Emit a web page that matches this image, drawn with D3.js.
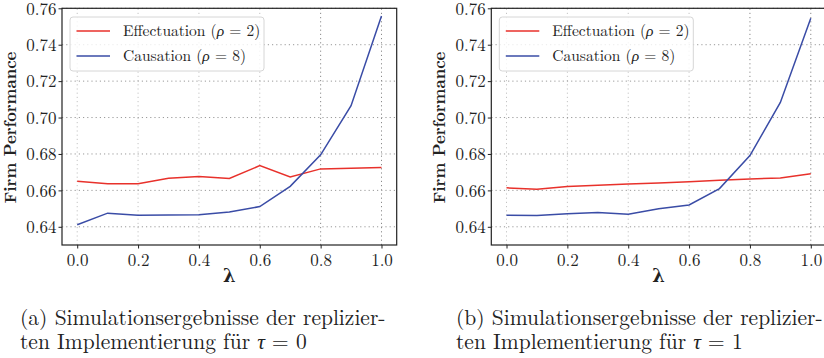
<!DOCTYPE html>
<html lang="de">
<head>
  <meta charset="UTF-8">
  <title>Firm Performance</title>
  <script src="https://d3js.org/d3.v7.min.js"></script>
  <style>
    body { margin: 0; background: #fff; }
    .grid line { stroke-dasharray: 1.2,3; stroke-width: 1; }
  </style>
</head>
<body>
  <div class="chart"></div>

  <script>
    // data
    const lambdas = [0.0, 0.1, 0.2, 0.3, 0.4, 0.5, 0.6, 0.7, 0.8, 0.9, 1.0];
    const effectuationTau0 = [0.6650, 0.6637, 0.6637, 0.6666, 0.6676, 0.6665, 0.6736, 0.6674, 0.6718, 0.6721, 0.6725];
    const causationTau0    = [0.6411, 0.6475, 0.6464, 0.6465, 0.6466, 0.6481, 0.6511, 0.6622, 0.6795, 0.7065, 0.7558];
    const effectuationTau1 = [0.6614, 0.6606, 0.6621, 0.6628, 0.6635, 0.6641, 0.6647, 0.6655, 0.6663, 0.6668, 0.6691];
    const causationTau1    = [0.6464, 0.6462, 0.6471, 0.6478, 0.6469, 0.6499, 0.6520, 0.6610, 0.6791, 0.7083, 0.7545];
    const xTicks = [0.0, 0.2, 0.4, 0.6, 0.8, 1.0];
    const yTicks = [0.64, 0.66, 0.68, 0.70, 0.72, 0.74, 0.76];
    const seriesNames = ["Effectuation", "Causation"];
    const seriesRho = [2, 8];
    const captions = [
      ["(a) Simulationsergebnisse der replizier-", "ten Implementierung für ", "0"],
      ["(b) Simulationsergebnisse der replizier-", "ten Implementierung für ", "1"]
    ];

    const colors = ["#e8312b", "#3a4ca6"];
    const width = 824, height = 358;
    const font = '"Latin Modern Roman", "Liberation Serif", "DejaVu Serif", serif';
    const greekFont = '"Liberation Serif", "DejaVu Serif", serif';
    const boldGreekFont = '"DejaVu Serif", "Liberation Serif", serif';

    const svg = d3.select(".chart")
      .append("svg")
      .attr("width", width)
      .attr("height", height)
      .style("font-family", font);

    const panels = [
      { x0: 62, x1: 396.7, capX: 20, eff: effectuationTau0, cau: causationTau0, cap: captions[0] },
      { x0: 491.3, x1: 826, capX: 456, eff: effectuationTau1, cau: causationTau1, cap: captions[1] }
    ];
    const plotTop = 8.3, plotBottom = 245;

    panels.forEach(p => {
      const x = d3.scaleLinear().domain([-0.05, 1.05]).range([p.x0, p.x1]);
      const y = d3.scaleLinear().domain([0.63, 0.76]).range([plotBottom, plotTop]);
      const g = svg.append("g");

      // grid
      const grid = g.append("g").attr("class", "grid");
      grid.selectAll(".gx").data(xTicks).enter().append("line")
        .attr("x1", d => x(d)).attr("x2", d => x(d))
        .attr("y1", plotBottom).attr("y2", plotTop)
        .attr("stroke", d => d >= 0.8 ? "#8a8a8a" : "#c4c4c4");
      grid.selectAll(".gy").data(yTicks).enter().append("line")
        .attr("x1", p.x0).attr("x2", p.x1)
        .attr("y1", d => y(d)).attr("y2", d => y(d))
        .attr("stroke", "#999");

      // lines
      const line = d3.line().x((d, i) => x(lambdas[i])).y(d => y(d));
      [p.eff, p.cau].forEach((vals, k) => {
        g.append("path")
          .datum(vals)
          .attr("fill", "none")
          .attr("stroke", colors[k])
          .attr("stroke-width", 1.5)
          .attr("d", line);
      });

      // frame
      g.append("rect")
        .attr("x", p.x0).attr("y", plotTop)
        .attr("width", p.x1 - p.x0).attr("height", plotBottom - plotTop)
        .attr("fill", "none").attr("stroke", "#222").attr("stroke-width", 1.2);

      // axes
      const xAxis = g.append("g")
        .attr("transform", `translate(0,${plotBottom})`)
        .call(d3.axisBottom(x).tickValues(xTicks).tickFormat(d3.format(".1f")).tickSize(3.5).tickPadding(5));
      const yAxis = g.append("g")
        .attr("transform", `translate(${p.x0},0)`)
        .call(d3.axisLeft(y).tickValues(yTicks).tickFormat(d3.format(".2f")).tickSize(3.5).tickPadding(2));
      [xAxis, yAxis].forEach(a => {
        a.attr("font-family", null).attr("font-size", 17);
        a.select(".domain").remove();
        a.selectAll(".tick line").attr("stroke", "#222");
        a.selectAll(".tick text").attr("fill", "#222");
      });
      yAxis.selectAll(".tick text").attr("dy", "0.34em");

      // axis titles
      g.append("text")
        .attr("transform", `translate(${p.x0 - 46},${(plotTop + plotBottom) / 2 + 1}) rotate(-90)`)
        .attr("text-anchor", "middle")
        .attr("font-weight", "bold")
        .attr("font-size", 16.5)
        .attr("fill", "#222")
        .text("Firm Performance");
      g.append("text")
        .attr("x", x(0.5)).attr("y", 282)
        .attr("text-anchor", "middle")
        .attr("font-weight", "bold")
        .attr("font-size", 18)
        .attr("fill", "#222")
        .style("font-family", boldGreekFont)
        .text("λ");

      // legend
      const lg = g.append("g").attr("transform", `translate(${p.x0 + 8},17)`);
      lg.append("rect")
        .attr("width", 194).attr("height", 54).attr("rx", 3)
        .attr("fill", "#fff").attr("fill-opacity", 0.8)
        .attr("stroke", "#d6d6d6");
      seriesNames.forEach((name, k) => {
        const ly = 14 + k * 25;
        lg.append("line")
          .attr("x1", 6.5).attr("x2", 40).attr("y1", ly).attr("y2", ly)
          .attr("stroke", colors[k]).attr("stroke-width", 1.5);
        const t = lg.append("text")
          .attr("x", 53).attr("y", ly + 5)
          .attr("font-size", 15.5).attr("fill", "#222");
        t.append("tspan").text(name + " (");
        t.append("tspan").attr("font-style", "italic").style("font-family", greekFont).text("ρ");
        t.append("tspan").text(" = " + seriesRho[k] + ")");
      });

      // caption
      const cap = g.append("text").attr("font-size", 21.5).attr("fill", "#222");
      cap.append("tspan").attr("x", p.capX).attr("y", 325).text(p.cap[0]);
      const l2 = cap.append("tspan").attr("x", p.capX).attr("y", 349);
      l2.append("tspan").text(p.cap[1]);
      l2.append("tspan").attr("font-style", "italic").style("font-family", greekFont).text("τ");
      l2.append("tspan").text(" = " + p.cap[2]);
    });
  </script>
</body>
</html>
